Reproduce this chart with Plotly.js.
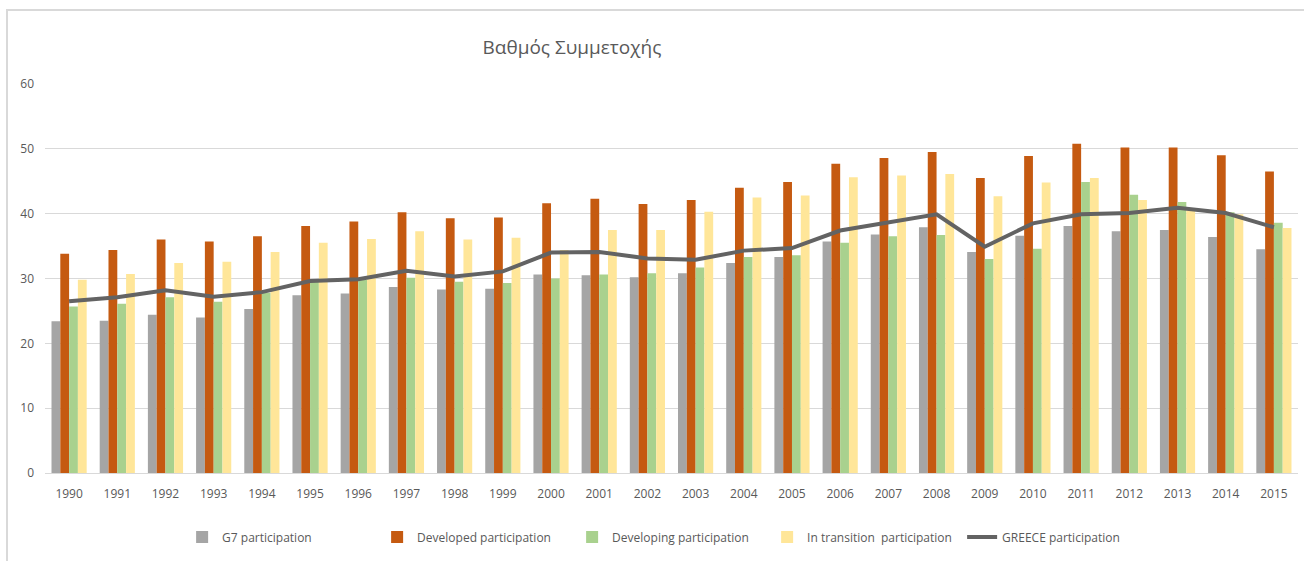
<!DOCTYPE html>
<html>
<head>
<meta charset="utf-8">
<script src="https://cdn.plot.ly/plotly-3.0.1.min.js"></script>
<style>
html,body{margin:0;padding:0;background:#fff;}
#chart{width:1304px;height:561px;}
</style>
</head>
<body>
<div id="chart"></div>
<script>
const years = ["1990","1991","1992","1993","1994","1995","1996","1997","1998","1999","2000","2001","2002","2003","2004","2005","2006","2007","2008","2009","2010","2011","2012","2013","2014","2015"];
const g7 = [23.4,23.5,24.4,24.0,25.3,27.4,27.7,28.7,28.3,28.4,30.6,30.5,30.2,30.8,32.4,33.3,35.7,36.8,37.9,34.1,36.6,38.1,37.3,37.5,36.4,34.5];
const developed = [33.8,34.4,36.0,35.7,36.5,38.1,38.8,40.2,39.3,39.4,41.6,42.3,41.5,42.1,44.0,44.9,47.7,48.6,49.5,45.5,48.9,50.8,50.2,50.2,49.0,46.5];
const developing = [25.7,26.1,27.1,26.4,27.8,29.7,29.8,30.1,29.5,29.3,30.0,30.6,30.8,31.7,33.3,33.6,35.5,36.5,36.7,33.0,34.6,44.9,42.9,41.8,40.2,38.6];
const transition = [29.8,30.7,32.4,32.6,34.1,35.5,36.1,37.3,36.0,36.3,34.4,37.5,37.5,40.3,42.5,42.8,45.6,45.9,46.1,42.7,44.8,45.5,42.1,40.5,39.9,37.8];
const greece = [26.5,27.1,28.2,27.2,27.9,29.6,29.9,31.2,30.3,31.1,34.0,34.1,33.1,32.9,34.3,34.7,37.4,38.7,39.9,34.9,38.5,39.9,40.1,40.9,40.1,37.9];

const seriesNames = ["G7 participation","Developed participation","Developing participation","In transition  participation","GREECE participation"];
const colors = ["#a5a5a5","#c55a11","#a9d18e","#ffe699","#636363"];

const barData = [g7, developed, developing, transition];
const traces = barData.map((vals, i) => ({
  type: "bar",
  x: years,
  y: vals,
  name: seriesNames[i],
  marker: {color: colors[i]},
  hoverinfo: "skip"
}));
traces.push({
  type: "scatter",
  mode: "lines",
  x: years,
  y: greece,
  name: seriesNames[4],
  line: {color: colors[4], width: 4},
  hoverinfo: "skip"
});

const fontFam = "'Open Sans', sans-serif";
const layout = {
  width: 1304,
  height: 561,
  margin: {l: 45, r: 6, t: 84, b: 88},
  paper_bgcolor: "#ffffff",
  plot_bgcolor: "#ffffff",
  barmode: "group",
  bargap: 0.27,
  bargroupgap: 0,
  font: {family: fontFam, color: "#595959", size: 12},
  title: {
    text: "Βαθμός Συμμετοχής",
    font: {family: fontFam, size: 19, color: "#595959"},
    x: 0.4206, xref: "paper", xanchor: "center",
    y: 1 - 47/561, yref: "container", yanchor: "middle"
  },
  xaxis: {
    type: "category",
    showgrid: false,
    showline: true,
    linecolor: "#d9d9d9",
    linewidth: 1,
    ticks: "",
    ticklabelstandoff: 10,
    tickfont: {family: fontFam, size: 12, color: "#595959"},
    fixedrange: true
  },
  yaxis: {
    range: [0, 60],
    dtick: 10,
    showgrid: true,
    gridcolor: "#d9d9d9",
    gridwidth: 1,
    zeroline: false,
    showline: false,
    ticks: "",
    ticklabelstandoff: 10,
    tickfont: {family: fontFam, size: 12, color: "#595959"},
    fixedrange: true
  },
  legend: {
    orientation: "h",
    x: 0.4985, xanchor: "center",
    y: (473-537)/389, yanchor: "middle",
    entrywidth: 150,
    entrywidthmode: "pixels",
    font: {family: fontFam, size: 12, color: "#595959"},
    itemclick: false, itemdoubleclick: false,
    traceorder: "normal"
  },
  shapes: [{
    type: "rect", xref: "paper", yref: "paper",
    x0: -38/1253, x1: 1.02, y0: -0.3, y1: 463/389,
    line: {color: "#d9d9d9", width: 2},
    fillcolor: "rgba(0,0,0,0)",
    layer: "below"
  }]
};

Plotly.newPlot("chart", traces, layout, {staticPlot: true, displayModeBar: false});
</script>
</body>
</html>
